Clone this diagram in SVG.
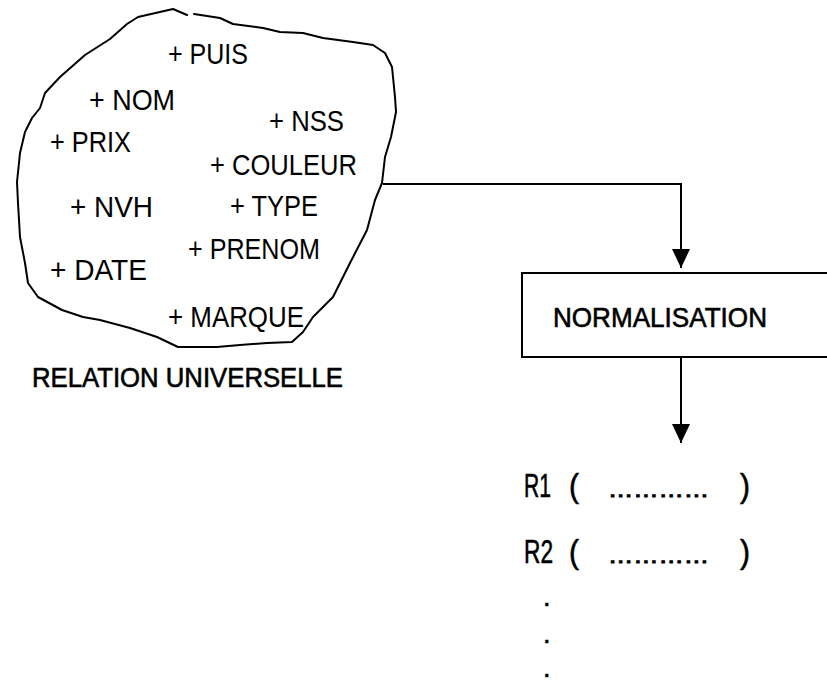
<svg xmlns="http://www.w3.org/2000/svg" width="827" height="682" viewBox="0 0 827 682">
  <style>
    .outline { fill: none; stroke: #000; stroke-width: 2; stroke-linejoin: round; stroke-linecap: round; }
    .attr { font-family: "Liberation Sans", Arial, sans-serif; font-size: 30px; fill: #000; }
    .label { font-family: "Liberation Sans", Arial, sans-serif; font-size: 27px; fill: #000; stroke: #000; stroke-width: 0.6; }
    .big { font-size: 33px; }
    .fill { font-size: 20px; stroke-width: 1; }
    .wire { fill: none; stroke: #000; stroke-width: 2; }
  </style>
  <defs>
    <marker id="arrow" markerWidth="20" markerHeight="18" refX="19" refY="9" orient="auto" markerUnits="userSpaceOnUse" viewBox="0 0 20 18">
      <path d="M0,0 L19,9 L0,18 Z" fill="#000"/>
    </marker>
  </defs>
  <rect width="827" height="682" fill="#fff"/>

  <!-- universal relation: freehand outline with its attributes -->
  <g id="relation-universelle">
    <polyline class="outline" points="194,14 220,18 233,24 263,28 280,32 303,33 323,38 353,42 373,45 385,53 392,67 395,97 396,112 391,137 385,157 382,183 375,200 367,230 350,263 333,297 320,310 313,317 303,332 292,342 267,343 240,345 217,347 178,347 157,337 130,328 100,320 83,317 62,310 38,297 28,283 25,263 20,237 18,203 17,182 20,153 25,132 32,118 40,108 45,93 60,77 85,55 110,39 127,24 138,17 173,9 187,15"/>
    <text class="attr" x="168" y="64" textLength="80" lengthAdjust="spacingAndGlyphs">+ PUIS</text>
    <text class="attr" x="89" y="110" textLength="86" lengthAdjust="spacingAndGlyphs">+ NOM</text>
    <text class="attr" x="50" y="152" textLength="81" lengthAdjust="spacingAndGlyphs">+ PRIX</text>
    <text class="attr" x="269" y="131" textLength="75" lengthAdjust="spacingAndGlyphs">+ NSS</text>
    <text class="attr" x="210" y="175" textLength="147" lengthAdjust="spacingAndGlyphs">+ COULEUR</text>
    <text class="attr" x="70" y="217" textLength="83" lengthAdjust="spacingAndGlyphs">+ NVH</text>
    <text class="attr" x="230" y="216" textLength="88" lengthAdjust="spacingAndGlyphs">+ TYPE</text>
    <text class="attr" x="188" y="259" textLength="132" lengthAdjust="spacingAndGlyphs">+ PRENOM</text>
    <text class="attr" x="50" y="280" textLength="97" lengthAdjust="spacingAndGlyphs">+ DATE</text>
    <text class="attr" x="168" y="327" textLength="136" lengthAdjust="spacingAndGlyphs">+ MARQUE</text>
    <text class="label" x="32" y="387" textLength="311" lengthAdjust="spacingAndGlyphs">RELATION UNIVERSELLE</text>
  </g>

  <!-- normalisation step -->
  <g id="normalisation">
    <rect x="522" y="273" width="330" height="84" fill="#fff" stroke="#000" stroke-width="2"/>
    <text class="label" x="553" y="327" textLength="214" lengthAdjust="spacingAndGlyphs">NORMALISATION</text>
  </g>

  <!-- resulting relations -->
  <g id="relations">
    <text class="label big" x="524" y="497" textLength="27" lengthAdjust="spacingAndGlyphs">R1</text>
    <text class="label big" x="569" y="497" textLength="10" lengthAdjust="spacingAndGlyphs">(</text>
    <text class="label fill" x="608" y="497" textLength="101" lengthAdjust="spacingAndGlyphs">…………</text>
    <text class="label big" x="740" y="497" textLength="10" lengthAdjust="spacingAndGlyphs">)</text>
    <text class="label big" x="524" y="563" textLength="29" lengthAdjust="spacingAndGlyphs">R2</text>
    <text class="label big" x="569" y="563" textLength="10" lengthAdjust="spacingAndGlyphs">(</text>
    <text class="label fill" x="608" y="563" textLength="101" lengthAdjust="spacingAndGlyphs">…………</text>
    <text class="label big" x="740" y="563" textLength="10" lengthAdjust="spacingAndGlyphs">)</text>
    <text class="label" x="543" y="606">.</text>
    <text class="label" x="543" y="643">.</text>
    <text class="label" x="543" y="677">.</text>
  </g>

  <!-- connectors -->
  <g id="connectors">
    <polyline class="wire" points="383,184 681,184 681,268" marker-end="url(#arrow)"/>
    <line class="wire" x1="681" y1="357" x2="681" y2="443" marker-end="url(#arrow)"/>
  </g>
</svg>
